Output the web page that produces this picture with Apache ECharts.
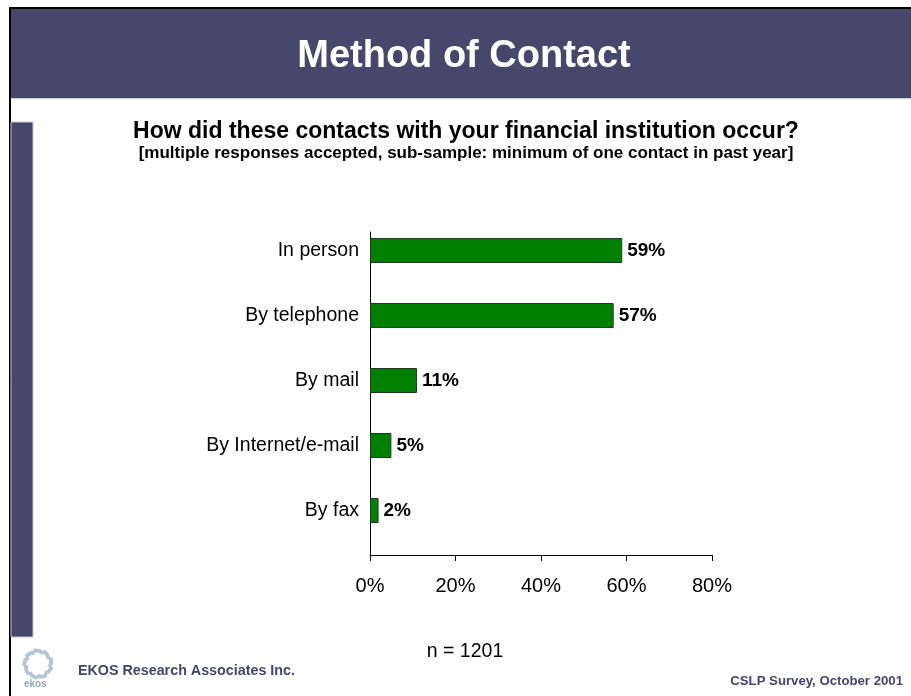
<!DOCTYPE html>
<html>
<head>
<meta charset="utf-8">
<script src="https://cdn.jsdelivr.net/npm/echarts@6/dist/echarts.min.js"></script>
<style>
  html, body { margin: 0; padding: 0; background: #ffffff; }
  #chart { width: 911px; height: 696px; }
</style>
</head>
<body>
<div id="chart"></div>
<script>
// Contact methods (top to bottom) and share of respondents, in percent
const categories = ['In person', 'By telephone', 'By mail', 'By Internet/e-mail', 'By fax'];
const shares = [59, 57, 11, 5, 2];
const axisTicks = [0, 20, 40, 60, 80];

const FONT = '"Liberation Sans", Arial, sans-serif';
const NAVY = '#47476b';

const chart = echarts.init(document.getElementById('chart'), null, { renderer: 'canvas' });

// Small swirl emblem next to the company name: curved petals around a hollow centre
const swirl = [];
for (let i = 0; i < 9; i++) {
  const a = (i / 9) * Math.PI * 2;
  const cx = 38 + Math.cos(a) * 4;
  const cy = 664 + Math.sin(a) * 4;
  swirl.push({
    type: 'arc',
    shape: { cx: cx, cy: cy, r: 10, startAngle: a + 0.3, endAngle: a + 1.3 },
    style: { stroke: '#a9bcd0', lineWidth: 4, fill: null, opacity: 0.85 },
    silent: true
  });
}

const option = {
  animation: false,
  backgroundColor: '#ffffff',
  graphic: [
    { type: 'rect', shape: { x: 9, y: 7, width: 902, height: 2 }, style: { fill: '#000' }, silent: true },
    { type: 'rect', shape: { x: 9, y: 7, width: 2, height: 689 }, style: { fill: '#000' }, silent: true },
    { type: 'rect', shape: { x: 11, y: 9, width: 900, height: 89 }, style: { fill: NAVY }, silent: true },
    { type: 'rect', shape: { x: 11, y: 98, width: 900, height: 1 }, style: { fill: '#c8c8dc' }, silent: true },
    { type: 'rect', shape: { x: 11, y: 122, width: 22, height: 515 }, style: { fill: NAVY, stroke: '#c8c8dc', lineWidth: 1 }, silent: true },
    ...swirl,
    { type: 'text', x: 24, y: 679, style: { text: 'ekos', font: 'bold 10px ' + FONT, fill: '#8fa6c0' }, silent: true }
  ],
  title: [
    {
      text: 'Method of Contact',
      left: 464, top: 38, textAlign: 'center', padding: 0,
      textStyle: { color: '#ffffff', fontFamily: FONT, fontSize: 38, fontWeight: 'bold' }
    },
    {
      text: 'How did these contacts with your financial institution occur?',
      left: 466, top: 120, textAlign: 'center', padding: 0,
      textStyle: { color: '#000000', fontFamily: FONT, fontSize: 23, fontWeight: 'bold' }
    },
    {
      text: '[multiple responses accepted, sub-sample: minimum of one contact in past year]',
      left: 466, top: 145, textAlign: 'center', padding: 0,
      textStyle: { color: '#000000', fontFamily: FONT, fontSize: 17, fontWeight: 'bold' }
    },
    {
      text: 'n = 1201',
      left: 465, top: 642, textAlign: 'center', padding: 0,
      textStyle: { color: '#000000', fontFamily: FONT, fontSize: 19.5, fontWeight: 'normal' }
    },
    {
      text: 'EKOS Research Associates Inc.',
      left: 78, top: 664, padding: 0,
      textStyle: { color: '#45456a', fontFamily: FONT, fontSize: 14.3, fontWeight: 'bold' }
    },
    {
      text: 'CSLP Survey, October 2001',
      right: 8, top: 675, padding: 0,
      textStyle: { color: '#45456a', fontFamily: FONT, fontSize: 13.2, fontWeight: 'bold' }
    }
  ],
  grid: [
    // bars and category labels
    { left: 370, width: 342, top: 218, height: 325 },
    // axis frame: vertical line and the percent scale
    { left: 370, width: 342, top: 232, height: 323 }
  ],
  xAxis: [
    {
      gridIndex: 0, type: 'value', min: 0, max: 80, interval: 20,
      show: false
    },
    {
      gridIndex: 1, type: 'value', min: axisTicks[0], max: axisTicks[axisTicks.length - 1], interval: 20,
      axisLine: { show: true, lineStyle: { color: '#000', width: 1 } },
      axisTick: { show: true, length: 6, lineStyle: { color: '#000' } },
      axisLabel: {
        formatter: '{value}%', margin: 21,
        color: '#000', fontFamily: FONT, fontSize: 20
      },
      splitLine: { show: false }
    }
  ],
  yAxis: [
    {
      gridIndex: 0, type: 'category', data: categories, inverse: true,
      axisLine: { show: false },
      axisTick: { show: false },
      axisLabel: { margin: 11, color: '#000', fontFamily: FONT, fontSize: 19.5 }
    },
    {
      gridIndex: 1, type: 'value', min: 0, max: 1,
      axisLine: { show: true, lineStyle: { color: '#000', width: 1 } },
      axisTick: { show: false },
      axisLabel: { show: false },
      splitLine: { show: false }
    }
  ],
  series: [
    {
      type: 'bar',
      xAxisIndex: 0, yAxisIndex: 0,
      data: shares,
      barWidth: 25,
      itemStyle: { color: '#008000', borderColor: '#1e3a1e', borderWidth: 1 },
      label: {
        show: true, position: 'right', distance: 5,
        formatter: '{c}%',
        color: '#000', fontFamily: FONT, fontSize: 19, fontWeight: 'bold'
      }
    }
  ]
};

chart.setOption(option);
</script>
</body>
</html>
